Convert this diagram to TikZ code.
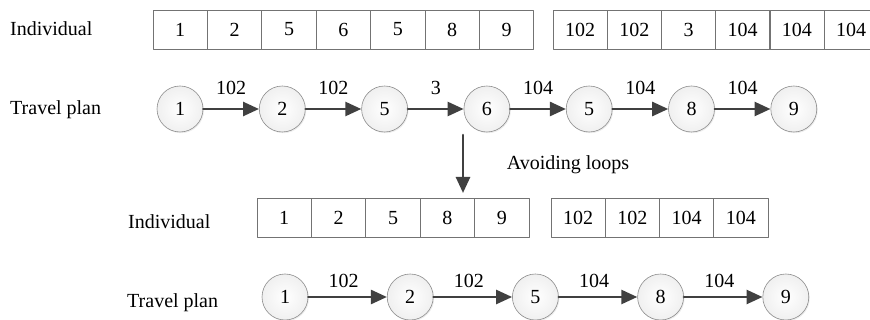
\documentclass[tikz,border=0pt]{standalone}
\usepackage{fontspec}
\setmainfont{Liberation Serif}
\usetikzlibrary{arrows.meta,shadows}

\begin{document}
\begin{tikzpicture}[x=1pt, y=-1pt, line cap=round, line join=round,
    font=\fontsize{20}{24}\selectfont,
    cell/.style={draw=black!55, line width=0.8pt, minimum width=54.4pt,
      minimum height=39pt, inner sep=0pt},
    stop/.style={circle, draw=black!45, line width=0.6pt, minimum size=46pt,
      inner sep=0pt, shading=radial, inner color=white, outer color=black!6,
      drop shadow={shadow xshift=1pt, shadow yshift=-1.2pt, opacity=0.15}},
    hop/.style={draw=black!75, line width=2.6pt,
      -{Triangle[length=16pt,width=14pt]}},
    rowname/.style={anchor=west, inner sep=0pt}]
  \useasboundingbox (0,0) rectangle (870,320);

  % Before: chromosome and its route.
  \node[rowname] (indivA) at (10,29) {Individual};
  \node[rowname] (planA) at (10,110) {Travel plan};
  \foreach \v [count=\i] in {1,2,5,6,5,8,9}
    \node[cell] (ia\i) at (125.8+54.4*\i, 29.5) {\v};
  \foreach \v [count=\i] in {102,102,3,104,104,104}
    \node[cell] (ib\i) at (525.9+54.2*\i, 29.5) {\v};
  \foreach \v [count=\i] in {1,2,5,6,5,8,9}
    \node[stop] (p\i) at (77.7+102.3*\i, 109) {\v};
  \foreach \w [count=\i] in {102,102,3,104,104,104} {
    \pgfmathtruncatemacro\j{\i+1}
    \draw[hop] (p\i) -- node[above=13pt, inner sep=0pt] {\w} (p\j);
  }

  % The loop 5-6-5 is cut out.
  \coordinate (cutA) at (463,135);
  \coordinate (cutB) at (463,193);
  \draw[hop] (cutA) -- (cutB);
  \node (note) at (568,165) {Avoiding loops};

  % After: shorter chromosome and route.
  \node[rowname] (indivB) at (128,222) {Individual};
  \node[rowname] (planB) at (127,303) {Travel plan};
  \foreach \v [count=\i] in {1,2,5,8,9}
    \node[cell] (ja\i) at (229.8+54.4*\i, 218) {\v};
  \foreach \v [count=\i] in {102,102,104,104}
    \node[cell] (jb\i) at (523.9+54.25*\i, 218) {\v};
  \foreach \v [count=\i] in {1,2,5,8,9}
    \node[stop] (q\i) at (159.8+125.2*\i, 297) {\v};
  \foreach \w [count=\i] in {102,102,104,104} {
    \pgfmathtruncatemacro\j{\i+1}
    \draw[hop] (q\i) -- node[pos=0.45, above=8pt, inner sep=0pt] {\w} (q\j);
  }
\end{tikzpicture}
\end{document}
